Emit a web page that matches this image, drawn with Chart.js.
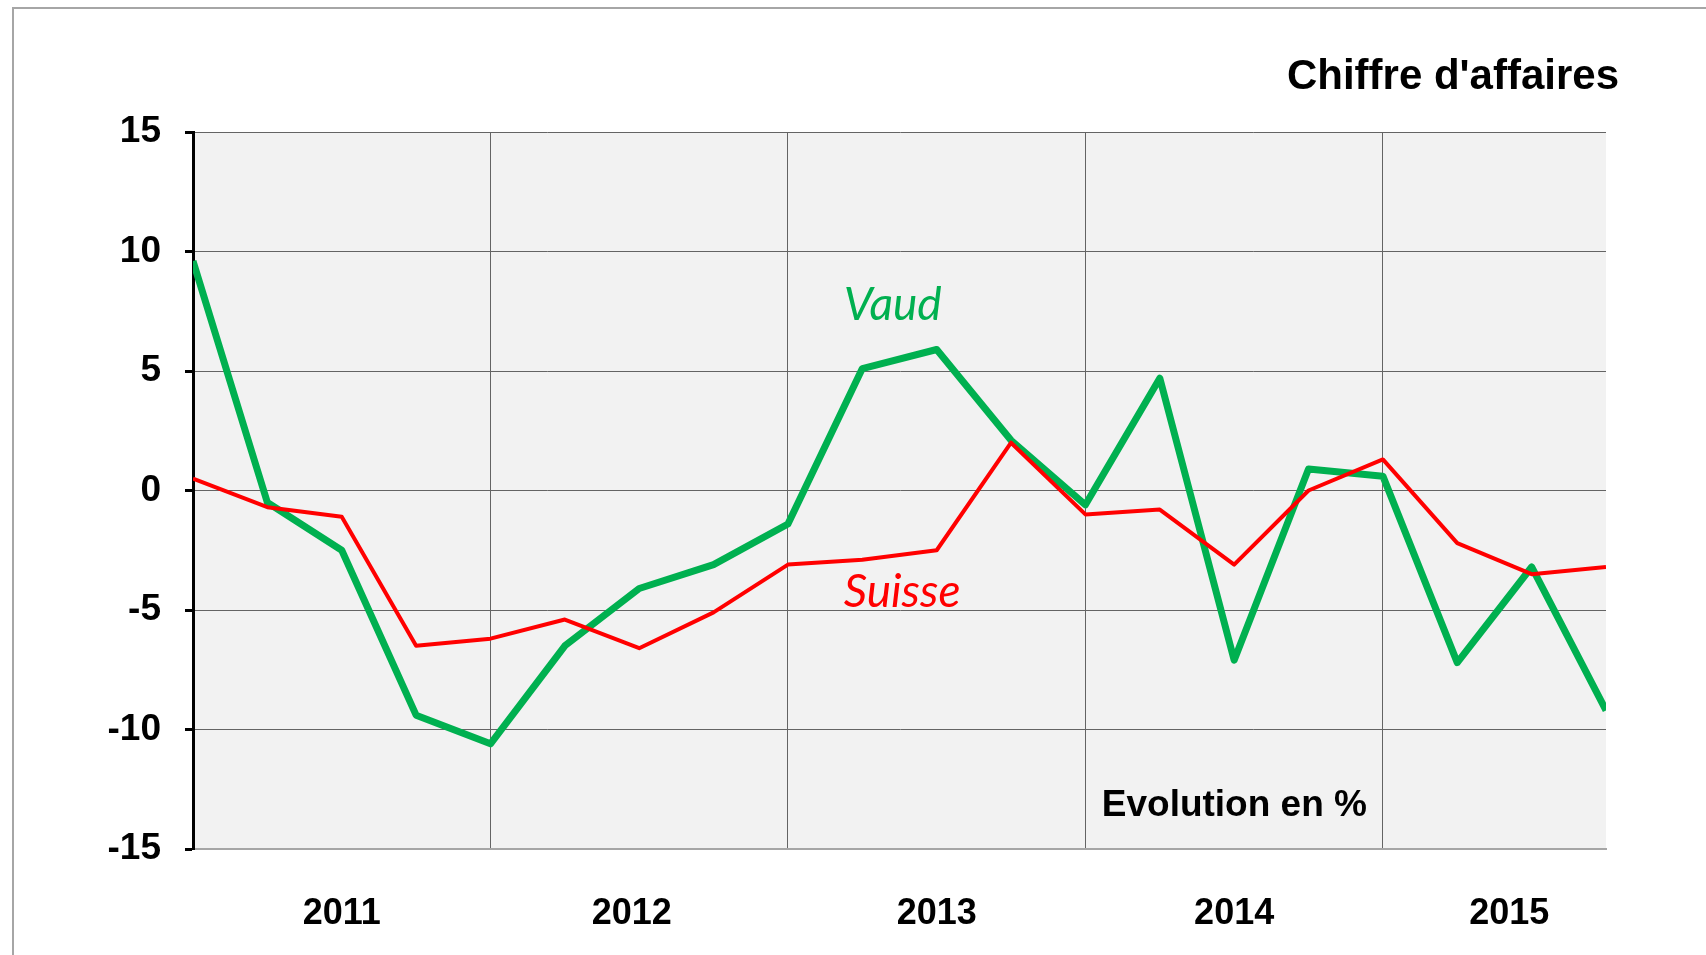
<!DOCTYPE html>
<html>
<head>
<meta charset="utf-8">
<script src="https://cdn.jsdelivr.net/npm/chart.js@4/dist/chart.umd.min.js"></script>
<style>
  html, body { margin: 0; padding: 0; background: #fff; }
  #wrap { position: relative; width: 1706px; height: 955px; }
</style>
</head>
<body>
<div id="wrap"><canvas id="ca_chart" width="1706" height="955"></canvas></div>
<script>
// quarters, 2010 T4 .. 2015 T3
const quarters = ['2010T4', '2011T1', '2011T2', '2011T3', '2011T4', '2012T1', '2012T2', '2012T3',
	'2012T4', '2013T1', '2013T2', '2013T3', '2013T4', '2014T1', '2014T2', '2014T3',
	'2014T4', '2015T1', '2015T2', '2015T3'];
const vaud = [9.6, -0.5, -2.5, -9.4, -10.6, -6.5, -4.1, -3.1, -1.4, 5.1, 5.9, 2.1,
	-0.6, 4.7, -7.1, 0.9, 0.6, -7.2, -3.2, -9.2];
const suisse = [0.5, -0.7, -1.1, -6.5, -6.2, -5.4, -6.6, -5.1, -3.1, -2.9, -2.5, 2.0,
	-1.0, -0.8, -3.1, 0.0, 1.3, -2.2, -3.5, -3.2];
const years = ['2011', '2012', '2013', '2014', '2015'];
const year_pos = [2, 5.9, 10, 14, 17.7];
const year_bounds = [0, 4, 8, 12, 16];

const font_family = "'Liberation Sans', Arial, sans-serif";
const green = '#00b050';
const red = '#ff0000';
const grid_color = '#646464';

const x_ticks = year_bounds.concat(year_pos).sort((a, b) => a - b);

const plot_bg = {
	id: 'plot_bg',
	beforeDraw(chart) {
		const { ctx, chartArea: a } = chart;
		ctx.save();
		ctx.fillStyle = '#f2f2f2';
		ctx.fillRect(a.left, a.top, a.right - a.left, a.bottom - a.top);
		// outer frame
		ctx.strokeStyle = '#a6a6a6';
		ctx.lineWidth = 2;
		ctx.strokeRect(13, 8, 2000, 2000);
		ctx.restore();
	}
};

const texts = {
	id: 'texts',
	afterDraw(chart) {
		const { ctx, chartArea: a, scales } = chart;
		const x = scales.x, y = scales.y;
		ctx.save();
		ctx.textBaseline = 'alphabetic';
		ctx.fillStyle = '#000';
		ctx.textAlign = 'right';
		ctx.font = 'bold 42px ' + font_family;
		ctx.fillText("Chiffre d'affaires", a.right + 13, 89);

		ctx.textAlign = 'left';
		ctx.font = 'bold 37px ' + font_family;
		ctx.fillText('Evolution en %', x.getPixelForValue(12.22), y.getPixelForValue(-13.63));

		ctx.font = "italic 46px Lato, 'Open Sans', sans-serif";
		ctx.fillStyle = green;
		ctx.fillText('Vaud', x.getPixelForValue(8.75), y.getPixelForValue(7.12));
		ctx.fillStyle = red;
		ctx.fillText('Suisse', x.getPixelForValue(8.75), y.getPixelForValue(-4.89));
		ctx.restore();
	}
};

const ca_chart = new Chart(
	document.getElementById('ca_chart').getContext('2d'),
	{
		type: 'line',
		data: {
			labels: quarters,
			datasets: [{
					label: 'Suisse',
					data: suisse.map((v, i) => ({ x: i, y: v })),
					borderColor: red,
					borderWidth: 4,
					borderJoinStyle: 'round',
					pointRadius: 0,
					tension: 0,
					order: 0
				}, {
					label: 'Vaud',
					data: vaud.map((v, i) => ({ x: i, y: v })),
					borderColor: green,
					borderWidth: 7,
					borderJoinStyle: 'round',
					pointRadius: 0,
					tension: 0,
					order: 1
				}]
		},
		options: {
			responsive: false,
			animation: false,
			layout: {
				padding: { top: 132, right: 100, left: 0, bottom: 0 }
			},
			plugins: {
				legend: { display: false },
				tooltip: { enabled: false },
				title: { display: false }
			},
			scales: {
				x: {
					type: 'linear',
					min: 0,
					max: 19,
					afterBuildTicks: (scale) => {
						scale.ticks = x_ticks.map(v => ({ value: v }));
					},
					afterFit: (scale) => { scale.height = 106; },
					grid: {
						color: (c) => year_bounds.includes(c.tick && c.tick.value) ? grid_color : 'rgba(0,0,0,0)',
						lineWidth: 1,
						drawTicks: false
					},
					border: { color: '#a6a6a6', width: 2 },
					ticks: {
						autoSkip: false,
						maxRotation: 0,
						padding: 43,
						color: '#000',
						font: { family: font_family, size: 36, weight: 'bold' },
						callback: (v) => {
							const k = year_pos.indexOf(v);
							return k >= 0 ? years[k] : '';
						}
					}
				},
				y: {
					min: -15,
					max: 15,
					afterFit: (scale) => { scale.width = 193; },
					grid: {
						color: grid_color,
						lineWidth: 1,
						tickColor: '#000',
						tickWidth: 3,
						tickLength: 8
					},
					border: { color: '#000', width: 3 },
					ticks: {
						stepSize: 5,
						padding: 24,
						color: '#000',
						font: { family: font_family, size: 37, weight: 'bold' }
					}
				}
			}
		},
		plugins: [plot_bg, texts]
	}
);
</script>
</body>
</html>
